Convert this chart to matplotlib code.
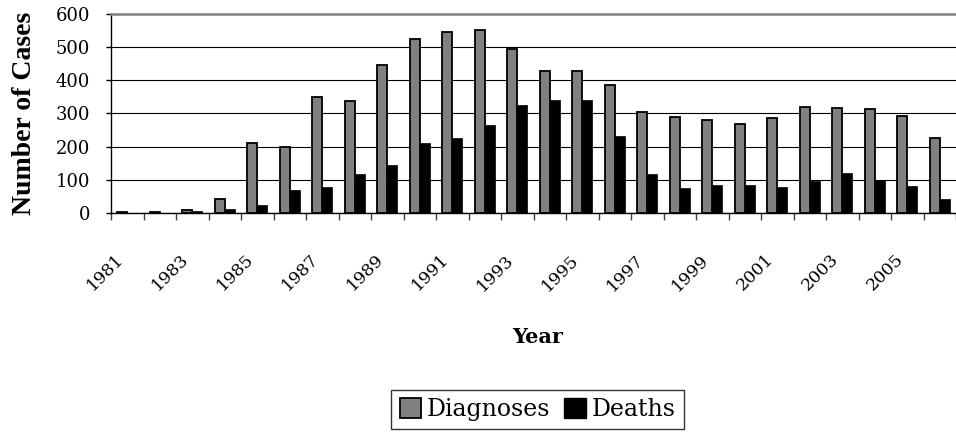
import matplotlib
matplotlib.use("Agg")
import matplotlib.pyplot as plt
import matplotlib.transforms as mtransforms
import numpy as np
from matplotlib.patches import Patch

years = list(range(1981, 2007))
diagnoses = [3, 3, 10, 42, 210, 200, 350, 337, 445, 525, 545, 553, 493, 427, 427, 387,
             305, 288, 280, 269, 287, 320, 316, 314, 293, 226]
deaths = [1, 1, 5, 12, 25, 70, 77, 117, 145, 212, 225, 265, 325, 340, 340, 233,
          117, 75, 83, 83, 79, 95, 120, 99, 81, 43]
tick_labels = [str(y) for y in years[::2]]

plt.rcParams['font.family'] = ['DejaVu Serif']

fig = plt.figure(figsize=(9.56, 4.36), dpi=100)
ax = fig.add_axes([111/956, (436-213)/436, 845/956, 199/436])

x = np.arange(len(years))
w = 0.31
ax.bar(x - w/2, diagnoses, width=w, color='#808080', edgecolor='black', linewidth=1.3, zorder=3)
ax.bar(x + w/2, deaths, width=w, color='black', edgecolor='black', linewidth=0.5, zorder=3)

ax.set_xlim(-0.5, 25.24)
ax.set_ylim(0, 600)
ax.set_yticks(range(0, 601, 100))
ax.yaxis.grid(True, color='black', linewidth=0.8, zorder=0)
ax.set_axisbelow(True)

ax.set_xticks(x[::2])
ax.set_xticklabels(tick_labels, rotation=45, ha='right', va='top', rotation_mode='anchor', fontsize=12.5)
ax.set_xticks(np.arange(-0.5, 26, 1), minor=True)
ax.tick_params(axis='x', which='major', length=0, pad=0)
ax.tick_params(axis='x', which='minor', length=5, color='#404040', width=1)
ax.tick_params(axis='y', length=3.6, width=1, labelsize=13, pad=11.5)
offset = mtransforms.ScaledTranslation(-12/100, -38/100, fig.dpi_scale_trans)
for lab in ax.get_xticklabels():
    lab.set_transform(lab.get_transform() + offset)

ax.spines['right'].set_visible(False)
ax.spines['top'].set_color('#808080')
ax.spines['top'].set_linewidth(1.8)
ax.spines['left'].set_linewidth(1.0)
ax.spines['bottom'].set_linewidth(1.0)

fig.text(25/956, (436-113)/436, 'Number of Cases', rotation=90, ha='center', va='center',
         fontweight='bold', fontsize=20, family=['Liberation Serif'])
fig.text(538/956, (436-337)/436, 'Year', ha='center', va='center', fontweight='bold', fontsize=15)

handles = [Patch(facecolor='#808080', edgecolor='black', linewidth=1.3, label='Diagnoses'),
           Patch(facecolor='black', edgecolor='black', label='Deaths')]
leg = fig.legend(handles=handles, loc='center', bbox_to_anchor=(537.5/956, (436-409.5)/436), ncol=2,
                 frameon=True, fancybox=False, edgecolor='black', fontsize=17,
                 handlelength=0.9, handleheight=0.9, handletextpad=0.25, columnspacing=0.6,
                 borderpad=0.35, borderaxespad=0)
leg.get_frame().set_linewidth(1.0)

fig.savefig('out.png', dpi=100)
